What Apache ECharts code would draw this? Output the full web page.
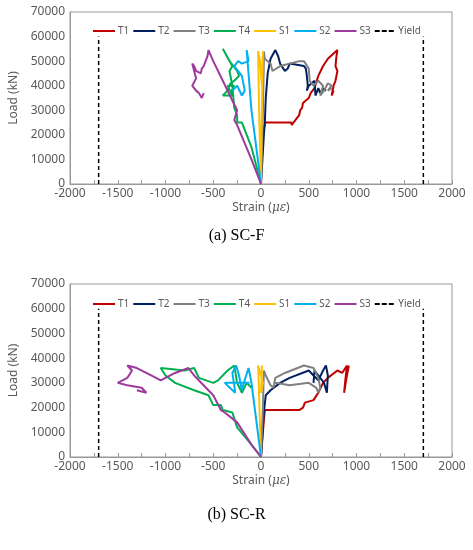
<!DOCTYPE html><html><head><meta charset="utf-8"><script src="https://cdn.jsdelivr.net/npm/echarts@6/dist/echarts.min.js"></script></head><body style="margin:0"><div id="c" style="width:473px;height:550px"></div><script>
const names=['T1','T2','T3','T4','S1','S2','S3','Yield'];
const colors=['#c00000','#002060','#808080','#00b050','#ffc000','#00b0f0','#9e3a9e','#000'];
const F={
T1:[[0,0],[10,20000],[40,24000],[40,25000],[320,25000],[320,24000],[330,24000],[400,28000],[410,30000],[430,31000],[440,33000],[500,35000],[520,37000],[560,39000],[600,44000],[650,48000],[700,51000],[800,54500],[790,52000],[780,48000],[800,46000],[780,42000],[760,40000],[740,36000],[760,38000]],
T2:[[0,0],[30,20000],[40,25000],[50,35000],[70,45000],[100,51000],[150,54500],[180,52000],[200,49000],[250,46000],[280,47000],[300,49000],[450,48000],[470,47000],[480,44000],[490,40000],[480,38000],[500,40000],[560,42000],[570,36000],[600,39000],[620,37000],[650,39000],[680,38000]],
T3:[[0,0],[20,30000],[30,50000],[30,54000],[40,51000],[100,49000],[120,46000],[200,48000],[300,49000],[400,50000],[450,50000],[500,47000],[510,42000],[550,40000],[600,42000],[650,40000],[620,36000],[660,38000],[700,41000],[740,40000],[700,38000],[740,39000]],
T4:[[0,0],[-100,15000],[-200,25000],[-250,25000],[-250,28000],[-280,31000],[-300,40000],[-330,46000],[-300,48000],[-400,55000],[-330,50000],[-250,46000],[-230,44000],[-280,42000],[-320,41000],[-350,38000],[-400,36000],[-300,36000],[-350,40000],[-280,40000],[-320,37000]],
S1:[[0,0],[-20,30000],[-30,54000],[-10,50000],[10,40000],[20,54000],[5,20000],[0,0]],
S2:[[0,0],[-100,30000],[-150,54500],[-130,50000],[-200,49000],[-240,50000],[-280,48000],[-200,44000],[-170,38000],[-200,36000],[-250,40000],[-300,38000]],
S3:[[0,0],[-100,10000],[-250,24000],[-280,26000],[-250,30000],[-300,34000],[-400,42000],[-500,50000],[-550,54500],[-560,52000],[-600,48000],[-620,47000],[-630,45000],[-680,46000],[-700,48000],[-720,49000],[-700,46000],[-680,43000],[-720,40000],[-680,38000],[-650,37000],[-620,35000],[-600,37000]]
};
const R={
T1:[[0,0],[30,15000],[40,19000],[400,19000],[440,20000],[460,22000],[550,23000],[600,26000],[650,30000],[700,32000],[800,35000],[850,34000],[900,37000],[880,30000],[870,26000],[900,33000],[920,37000]],
T2:[[0,0],[30,18000],[50,25000],[100,27000],[200,30000],[300,32000],[500,35000],[550,33000],[600,31000],[650,35000],[680,37000],[700,33000],[690,26000],[660,30000],[560,35000],[550,30000]],
T3:[[0,0],[20,20000],[30,35000],[50,33000],[100,29000],[130,28000],[150,32000],[250,34000],[450,37000],[550,36000],[600,32000],[620,28000],[600,26000],[580,28000],[500,30000],[300,29000],[150,30000]],
T4:[[0,0],[-100,5000],[-250,12000],[-300,18000],[-400,19000],[-420,21000],[-500,21000],[-550,25000],[-700,27000],[-900,30000],[-1000,33000],[-1050,36000],[-800,35000],[-700,36000],[-650,32000],[-500,30000],[-450,31000],[-350,35000],[-280,37000],[-250,30000],[-200,26000],[-150,30000],[-100,28000]],
S1:[[0,0],[-20,25000],[-30,37000],[20,30000],[0,26000],[10,37000]],
S2:[[0,0],[-50,15000],[-100,30000],[-130,36000],[-180,30000],[-200,27000],[-230,33000],[-260,37000],[-300,34000],[-280,29000],[-270,26000],[-380,30000],[-200,30000],[-120,30000]],
S3:[[0,0],[-100,5000],[-250,14000],[-380,18000],[-420,19000],[-500,25000],[-700,33000],[-760,36000],[-900,34000],[-1000,32000],[-1050,31000],[-1150,33000],[-1300,36000],[-1400,37000],[-1350,35000],[-1400,32000],[-1500,30000],[-1400,29000],[-1250,28000],[-1200,26000],[-1300,27000]]
};
const yieldL=[[-1700,0],[-1700,60000],null,[1700,0],[1700,60000]];
const tc='#595959',ff='Noto Sans';
function ax(i){return {gridIndex:i,type:'value',min:-2000,max:2000,interval:500,
 name:'{a|Strain (}{b|με}{a|)}',nameLocation:'middle',nameGap:18,nameTextStyle:{rich:{a:{fontSize:12,color:tc,fontFamily:ff},b:{fontSize:12,color:tc,fontFamily:'DejaVu Serif',fontStyle:'italic'}}},
 axisLine:{onZero:false,lineStyle:{color:'#999'}},axisTick:{inside:true,length:4,lineStyle:{color:'#999'}},minorTick:{show:true,splitNumber:2,length:4,lineStyle:{color:'#999'}},
 splitLine:{show:false},axisLabel:{color:tc,fontSize:12,fontFamily:ff,margin:4,formatter:v=>String(v)}}}
function ay(i){return {gridIndex:i,type:'value',min:0,max:70000,interval:10000,name:'Load (kN)',nameLocation:'middle',nameGap:40,nameTextStyle:{color:tc,fontSize:12,fontFamily:ff},
 axisLine:{show:true,onZero:false,lineStyle:{color:'#999'}},axisTick:{show:false},splitLine:{show:false},axisLabel:{color:tc,fontSize:12,fontFamily:ff,margin:5,formatter:v=>String(v)}}}
const series=[];
[F,R].forEach((D,g)=>{names.slice(0,7).forEach((n,k)=>series.push({name:n,type:'line',xAxisIndex:g,yAxisIndex:g,data:D[n],showSymbol:false,lineStyle:{width:2,color:colors[k]},itemStyle:{color:colors[k]},z:3}));
 series.push({name:'Yield',type:'line',xAxisIndex:g,yAxisIndex:g,data:yieldL,showSymbol:false,connectNulls:false,lineStyle:{width:1.5,type:[4,3],color:'#000'},itemStyle:{color:'#000'}});});
const legData=names.map(n=>n==='Yield'?{name:n,icon:'path://M0,0h5v2h-5z M7,0h5v2h-5z M14,0h5v2h-5z'}:n);
const leg=t=>({top:t,left:88,itemGap:4,itemWidth:22,itemHeight:2,icon:'rect',textStyle:{fontSize:10,color:tc,fontFamily:ff,padding:[0,0,0,-2]},data:legData});
echarts.init(document.getElementById('c')).setOption({animation:false,
 grid:[{left:70,right:21,top:12,height:172,outerBoundsMode:'none',containLabel:false},{left:70,right:21,top:284,height:173,outerBoundsMode:'none',containLabel:false}],
 xAxis:[ax(0),ax(1)],
 yAxis:[ay(0),ay(1)],
 legend:[leg(21),leg(294)],
 graphic:[{type:'rect',shape:{x:70,y:12,width:382,height:172},style:{fill:'none',stroke:'#999',lineWidth:1}},
 {type:'rect',shape:{x:70,y:284,width:382,height:173},style:{fill:'none',stroke:'#999',lineWidth:1}},
 {type:'text',left:'center',top:228,style:{text:'(a) SC-F',font:'16px "Liberation Serif"',fill:'#000'}},
 {type:'text',left:'center',top:507,style:{text:'(b) SC-R',font:'16px "Liberation Serif"',fill:'#000'}}],
 series});
</script></body></html>
